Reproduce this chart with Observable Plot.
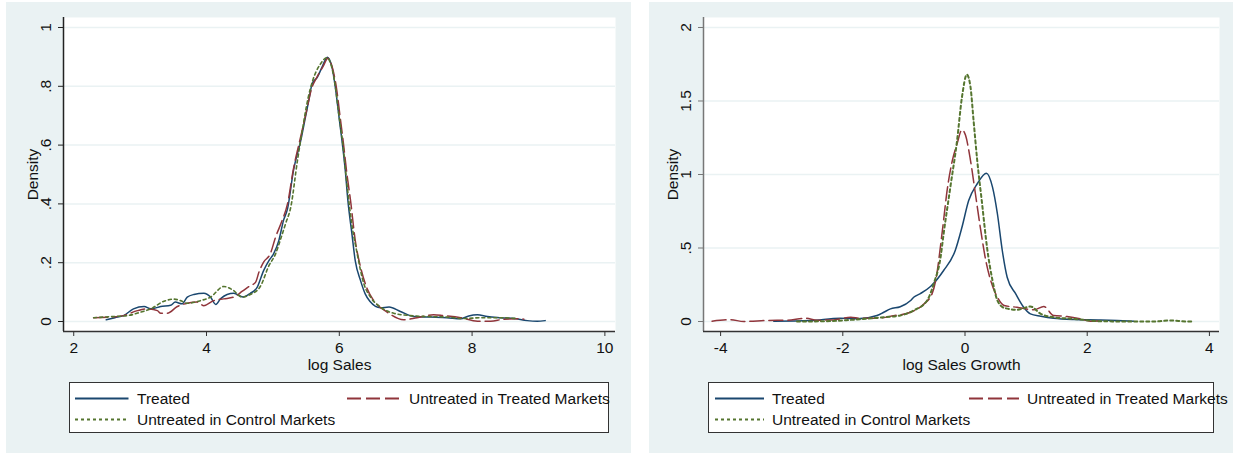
<!DOCTYPE html>
<html><head><meta charset="utf-8">
<script src="https://cdn.jsdelivr.net/npm/d3@7"></script>
<script src="https://cdn.jsdelivr.net/npm/@observablehq/plot@0.6"></script>
<style>
html,body{margin:0;padding:0;background:#fff;}
#root{position:relative;width:1233px;height:453px;overflow:hidden;font-family:"Liberation Sans",Arial,Helvetica,sans-serif;}
.panel{position:absolute;background:#eaf2f3;}
.chart{position:absolute;left:0;top:0;}
.legend{position:absolute;background:#fff;border:1px solid #333;box-sizing:border-box;overflow:visible;}
</style></head><body><div id="root"></div>
<script>
// ---------- DATA ----------
const seriesNames = ["Treated", "Untreated in Treated Markets", "Untreated in Control Markets"];

// Left panel: log Sales
const salesTreatedX = [2.49,2.62,2.75,2.9,3.06,3.16,3.31,3.46,3.53,3.63,3.71,3.81,3.96,4.06,4.14,4.21,4.31,4.41,4.55,4.66,4.76,4.86,4.94,5.01,5.09,5.16,5.22,5.31,5.42,5.49,5.54,5.59,5.67,5.74,5.82,5.89,5.94,5.99,6.04,6.09,6.13,6.19,6.24,6.32,6.39,6.46,6.62,6.75,6.92,7.12,7.37,7.62,7.83,7.95,8.08,8.23,8.43,8.63,8.83,8.98,9.1];
const salesTreatedY = [0.006,0.013,0.02,0.043,0.051,0.043,0.051,0.055,0.066,0.06,0.083,0.092,0.096,0.083,0.058,0.077,0.092,0.096,0.083,0.096,0.115,0.173,0.207,0.23,0.276,0.344,0.383,0.514,0.616,0.695,0.752,0.808,0.831,0.865,0.899,0.865,0.797,0.706,0.616,0.514,0.41,0.298,0.207,0.139,0.094,0.069,0.047,0.049,0.034,0.017,0.015,0.013,0.009,0.019,0.023,0.017,0.013,0.01,0.003,0.001,0.003];
const salesUntrTreatedX = [2.3,2.55,2.75,2.96,3.11,3.26,3.31,3.41,3.56,3.71,3.86,3.96,4.11,4.26,4.41,4.54,4.64,4.74,4.79,4.86,4.96,5.04,5.14,5.22,5.31,5.42,5.5,5.58,5.66,5.75,5.83,5.9,5.96,6.01,6.06,6.11,6.17,6.24,6.32,6.42,6.52,6.72,6.97,7.17,7.42,7.57,7.83,8.08,8.28,8.48,8.73,8.78];
const salesUntrTreatedY = [0.013,0.015,0.02,0.037,0.043,0.037,0.028,0.028,0.051,0.062,0.066,0.054,0.071,0.077,0.083,0.103,0.119,0.134,0.168,0.202,0.23,0.287,0.344,0.4,0.52,0.63,0.71,0.79,0.83,0.865,0.895,0.86,0.79,0.7,0.61,0.51,0.41,0.276,0.185,0.111,0.071,0.032,0.006,0.013,0.023,0.02,0.013,0.001,0.001,0.008,0.009,0.008];
const salesUntrControlX = [2.3,2.6,2.81,3.01,3.16,3.36,3.51,3.61,3.71,3.91,4.06,4.26,4.39,4.54,4.66,4.81,4.94,5.04,5.11,5.19,5.27,5.37,5.45,5.53,5.6,5.72,5.81,5.88,5.94,5.99,6.05,6.12,6.18,6.27,6.37,6.47,6.62,6.82,7.07,7.32,7.62,7.88,8.13,8.38,8.68];
const salesUntrControlY = [0.013,0.017,0.02,0.032,0.043,0.069,0.076,0.071,0.062,0.071,0.083,0.119,0.108,0.083,0.092,0.119,0.19,0.23,0.276,0.332,0.39,0.548,0.66,0.76,0.82,0.877,0.897,0.87,0.8,0.71,0.61,0.457,0.344,0.23,0.128,0.083,0.049,0.028,0.02,0.017,0.015,0.01,0.013,0.013,0.01];
const salesXTicks = [2,4,6,8,10];
const salesXTickLabels = ["2","4","6","8","10"];
const salesYTicks = [0,0.2,0.4,0.6,0.8,1];
const salesYTickLabels = ["0",".2",".4",".6",".8","1"];

// Right panel: log Sales Growth
const growthTreatedX = [-3.13,-2.53,-2.04,-1.76,-1.44,-1.33,-1.22,-1.06,-0.89,-0.84,-0.73,-0.56,-0.35,-0.16,-0.05,0.06,0.2,0.35,0.45,0.53,0.61,0.69,0.83,0.96,1.07,1.24,1.45,1.78,2.22,2.49,2.76];
const growthTreatedY = [0.002,0.007,0.022,0.018,0.041,0.063,0.086,0.1,0.143,0.165,0.19,0.24,0.347,0.483,0.641,0.823,0.937,1.009,0.914,0.733,0.483,0.301,0.188,0.097,0.052,0.036,0.022,0.014,0.011,0.007,0.002];
const growthUntrTreatedX = [-4.14,-3.84,-3.62,-3.24,-2.91,-2.61,-2.42,-2.15,-1.87,-1.71,-1.44,-1.17,-0.89,-0.67,-0.54,-0.48,-0.37,-0.29,-0.21,-0.13,-0.05,0.01,0.09,0.17,0.25,0.34,0.42,0.53,0.64,0.85,1.13,1.29,1.45,1.67,1.89,2.05,2.25];
const growthUntrTreatedY = [0.002,0.012,0,0.007,0.009,0.022,0.009,0.011,0.029,0.022,0.022,0.039,0.063,0.12,0.188,0.279,0.62,0.9,1.09,1.209,1.304,1.265,1.095,0.869,0.641,0.415,0.279,0.165,0.109,0.097,0.08,0.102,0.041,0.034,0.018,0.002,0.005];
const growthUntrControlX = [-2.75,-2.27,-1.87,-1.33,-1.06,-0.84,-0.62,-0.51,-0.4,-0.35,-0.24,-0.13,-0.05,0.03,0.09,0.14,0.2,0.28,0.36,0.45,0.53,0.64,0.85,1.07,1.24,1.45,1.78,2.22,2.76,3.09,3.36,3.64,3.74];
const growthUntrControlY = [0,0.002,0.011,0.029,0.041,0.075,0.143,0.26,0.437,0.597,0.914,1.231,1.526,1.68,1.594,1.367,1.095,0.8,0.505,0.279,0.143,0.093,0.08,0.102,0.052,0.029,0.018,0.002,0,0,0.007,0,0];
const growthXTicks = [-4,-2,0,2,4];
const growthXTickLabels = ["-4","-2","0","2","4"];
const growthYTicks = [0,0.5,1,1.5,2];
const growthYTickLabels = ["0",".5","1","1.5","2"];

// ---------- STYLE ----------
const colors = ["#1a476f", "#90353b", "#55752f"];
const dashes = [null, "14,5", "3,3"];
const widths = [1.5, 1.5, 2];
const FONT = '"Liberation Sans", Arial, Helvetica, sans-serif';
const FS = 15.5;
const gridColor = "#eaf2f3";

function rows(xs, ys){ return xs.map((x,i)=>({x, y: ys[i]})); }

function drawPanel(o){
  const marks = [
    Plot.frame({fill:"white", stroke:"none"}),
    Plot.gridY(o.yTicks, {stroke: gridColor, strokeOpacity: 1, strokeWidth: 1.5}),
    Plot.ruleX([o.xDomain[0]], {stroke: o.yAxisColor, strokeWidth: 1.5}),
    Plot.ruleY([o.yDomain[0]], {stroke: "#333", strokeWidth: 1.5}),
    Plot.axisY(o.yTicks, {anchor:"left", tickSize:5, tickFormat: () => "", stroke: o.yAxisColor, strokeWidth: 1, label: null}),
    Plot.axisX(o.xTicks, {anchor:"bottom", tickSize:5, tickFormat: () => "", stroke: "#333", strokeWidth: 1, label: null}),
    Plot.text(o.yTicks, {y: d => d, frameAnchor: "left", dx: -17, rotate: -90, text: (d,i) => o.yTickLabels[i], textAnchor: "middle", lineAnchor: "middle", fontSize: FS, fill: "#111"}),
    Plot.text(o.xTicks, {x: d => d, frameAnchor: "bottom", dy: 17, text: (d,i) => o.xTickLabels[i], textAnchor: "middle", lineAnchor: "middle", fontSize: FS, fill: "#111"}),
    Plot.text([o.yLabel], {frameAnchor: "left", dx: -30, rotate: -90, text: d => d, textAnchor: "middle", lineAnchor: "middle", fontSize: FS, fill: "#111"}),
    Plot.text([o.xLabel], {frameAnchor: "bottom", dy: 34, text: d => d, textAnchor: "middle", lineAnchor: "middle", fontSize: FS, fill: "#111"})
  ];
  o.series.forEach((s, i) => {
    marks.push(Plot.line(rows(s[0], s[1]), {x: "x", y: "y", stroke: colors[i], strokeWidth: widths[i] * o.lineScale[i], strokeDasharray: dashes[i], curve: "monotone-x"}));
  });
  return Plot.plot({
    width: o.width, height: 380,
    marginLeft: o.marginLeft, marginRight: o.marginRight, marginTop: 15, marginBottom: 51,
    x: {domain: o.xDomain, axis: null, label: null},
    y: {domain: o.yDomain, axis: null, label: null},
    style: {background: "transparent", fontFamily: FONT, fontSize: FS + "px", color: "#111", overflow: "visible"},
    marks
  });
}

function drawLegend(box){
  const div = document.createElement("div");
  div.className = "legend";
  Object.assign(div.style, {left: box.left + "px", top: box.top + "px", width: box.width + "px", height: "51px"});
  const svg = d3.create("svg").attr("width", box.width).attr("height", 51)
    .style("overflow", "visible").style("position","absolute").style("left","-1px").style("top","-1px");
  const items = [
    {i:0, x1: box.c1[0], x2: box.c1[1], tx: box.c1[2], y: 16.5},
    {i:1, x1: box.c2[0], x2: box.c2[1], tx: box.c2[2], y: 16.5},
    {i:2, x1: box.c1[0], x2: box.c1[1], tx: box.c1[2], y: 37.5}
  ];
  items.forEach(it => {
    svg.append("line").attr("x1", it.x1).attr("x2", it.x2).attr("y1", it.y).attr("y2", it.y)
      .attr("stroke", colors[it.i]).attr("stroke-width", 2)
      .attr("stroke-dasharray", it.i === 1 ? "14,5" : it.i === 2 ? "3,3" : null);
    svg.append("text").attr("x", it.tx).attr("y", it.y).attr("dominant-baseline", "central")
      .attr("font-family", FONT).attr("font-size", FS).attr("fill", "#111").text(seriesNames[it.i]);
  });
  div.appendChild(svg.node());
  return div;
}

const root = document.getElementById("root");

function addPanel(p){
  const panel = document.createElement("div");
  panel.className = "panel";
  Object.assign(panel.style, {left: p.left + "px", top: "2px", width: p.width + "px", height: "451px"});
  const chart = drawPanel(p);
  chart.classList.add("chart");
  chart.style.position = "absolute"; chart.style.left = "0px"; chart.style.top = "0px";
  panel.appendChild(chart);
  panel.appendChild(drawLegend(p.legend));
  root.appendChild(panel);
}

addPanel({
  left: 6, width: 625, marginLeft: 57, marginRight: 16,
  xDomain: [1.846, 10.16], yDomain: [-0.034, 1.034],
  xTicks: salesXTicks, xTickLabels: salesXTickLabels,
  yTicks: salesYTicks, yTickLabels: salesYTickLabels,
  xLabel: "log Sales", yLabel: "Density", yAxisColor: "#222",
  lineScale: [1, 1, 0.8],
  series: [[salesTreatedX, salesTreatedY], [salesUntrTreatedX, salesUntrTreatedY], [salesUntrControlX, salesUntrControlY]],
  legend: {left: 63, top: 380, width: 540, c1: [6, 59.5, 68], c2: [278, 331, 340]}
});

addPanel({
  left: 649, width: 584, marginLeft: 54, marginRight: 14,
  xDomain: [-4.28, 4.165], yDomain: [-0.068, 2.068],
  xTicks: growthXTicks, xTickLabels: growthXTickLabels,
  yTicks: growthYTicks, yTickLabels: growthYTickLabels,
  xLabel: "log Sales Growth", yLabel: "Density", yAxisColor: "#777",
  lineScale: [1, 1, 1],
  series: [[growthTreatedX, growthTreatedY], [growthUntrTreatedX, growthUntrTreatedY], [growthUntrControlX, growthUntrControlY]],
  legend: {left: 59, top: 380, width: 506, c1: [7, 56, 64], c2: [261, 311, 319]}
});
</script></body></html>
